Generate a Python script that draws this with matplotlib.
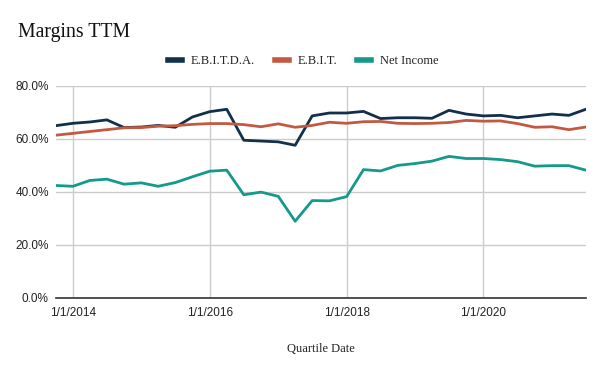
import matplotlib
matplotlib.use("Agg")
import matplotlib.pyplot as plt
import matplotlib.dates as mdates
import pandas as pd
from matplotlib.ticker import FuncFormatter, MultipleLocator

dates = pd.date_range("2013-10-01", "2021-07-01", freq="QS")

ebitda = [65.0, 65.9, 66.4, 67.2, 64.3, 64.5, 65.1, 64.4, 68.3, 70.3, 71.2,
          59.5, 59.2, 58.9, 57.6, 68.7, 69.8, 69.8, 70.4, 67.7, 68.0, 68.0,
          67.8, 70.8, 69.4, 68.7, 68.9, 68.0, 68.7, 69.4, 68.9, 71.2]
ebit = [61.4, 62.1, 62.8, 63.5, 64.2, 64.3, 64.8, 65.0, 65.5, 65.8, 65.8,
        65.4, 64.6, 65.7, 64.4, 65.1, 66.3, 65.9, 66.5, 66.6, 65.9, 65.8,
        65.9, 66.2, 67.0, 66.7, 66.8, 65.8, 64.4, 64.6, 63.5, 64.5]
net_income = [42.4, 42.1, 44.3, 44.8, 42.9, 43.4, 42.1, 43.5, 45.7, 47.8, 48.2,
              38.9, 39.9, 38.3, 28.9, 36.7, 36.6, 38.2, 48.4, 47.9, 50.0, 50.7,
              51.6, 53.4, 52.6, 52.6, 52.2, 51.4, 49.7, 49.9, 49.9, 48.2]

series_names = ["E.B.I.T.D.A.", "E.B.I.T.", "Net Income"]
colors = ["#11304a", "#c25a42", "#14998a"]
tick_dates = pd.to_datetime(["2014-01-01", "2016-01-01", "2018-01-01", "2020-01-01"])
tick_labels = ["1/1/2014", "1/1/2016", "1/1/2018", "1/1/2020"]

serif = ["Liberation Serif", "DejaVu Serif"]
sans = ["Liberation Sans", "DejaVu Sans"]

fig = plt.figure(figsize=(6.04, 3.68), dpi=100)
ax = fig.add_axes([55.7 / 604, 1 - 297.7 / 368, (585.9 - 55.7) / 604, (297.7 - 86) / 368])

for vals, name, c in zip([ebitda, ebit, net_income], series_names, colors):
    ax.plot(dates, vals, color=c, lw=2, label=name, solid_joinstyle="round")

ax.set_xlim(dates[0], dates[-1])
ax.set_ylim(0, 80)
ax.yaxis.set_major_locator(MultipleLocator(20))
ax.yaxis.set_major_formatter(FuncFormatter(lambda v, p: f"{v:.1f}%"))
ax.set_xticks(tick_dates)
ax.set_xticklabels(tick_labels)

ax.grid(True, color="#cccccc", lw=1)
ax.set_axisbelow(True)
for s in ["top", "right", "left"]:
    ax.spines[s].set_visible(False)
ax.spines["bottom"].set_color("#333333")
ax.spines["bottom"].set_linewidth(1.2)
ax.tick_params(axis="both", length=0, labelsize=8.5, colors="#222222")
ax.tick_params(axis="y", pad=5)
ax.tick_params(axis="x", pad=7)
for lab in ax.get_xticklabels() + ax.get_yticklabels():
    lab.set_fontfamily(sans)

ax.set_xlabel("Quartile Date", fontfamily=serif, fontsize=9, color="#222222", labelpad=17)

fig.text(18 / 604, 1 - 33 / 368, "Margins TTM", fontfamily=serif, fontsize=14.2,
         color="#111111", va="center", ha="left")

leg = fig.legend(loc="center", bbox_to_anchor=(303 / 604, 1 - 61 / 368), ncol=3,
                 frameon=False, prop={"family": serif, "size": 9},
                 handlelength=1.1, handletextpad=0.7, columnspacing=1.6)
for h in leg.get_lines():
    h.set_linewidth(4)
for t in leg.get_texts():
    t.set_color("#222222")

fig.savefig("out.png", dpi=100)
